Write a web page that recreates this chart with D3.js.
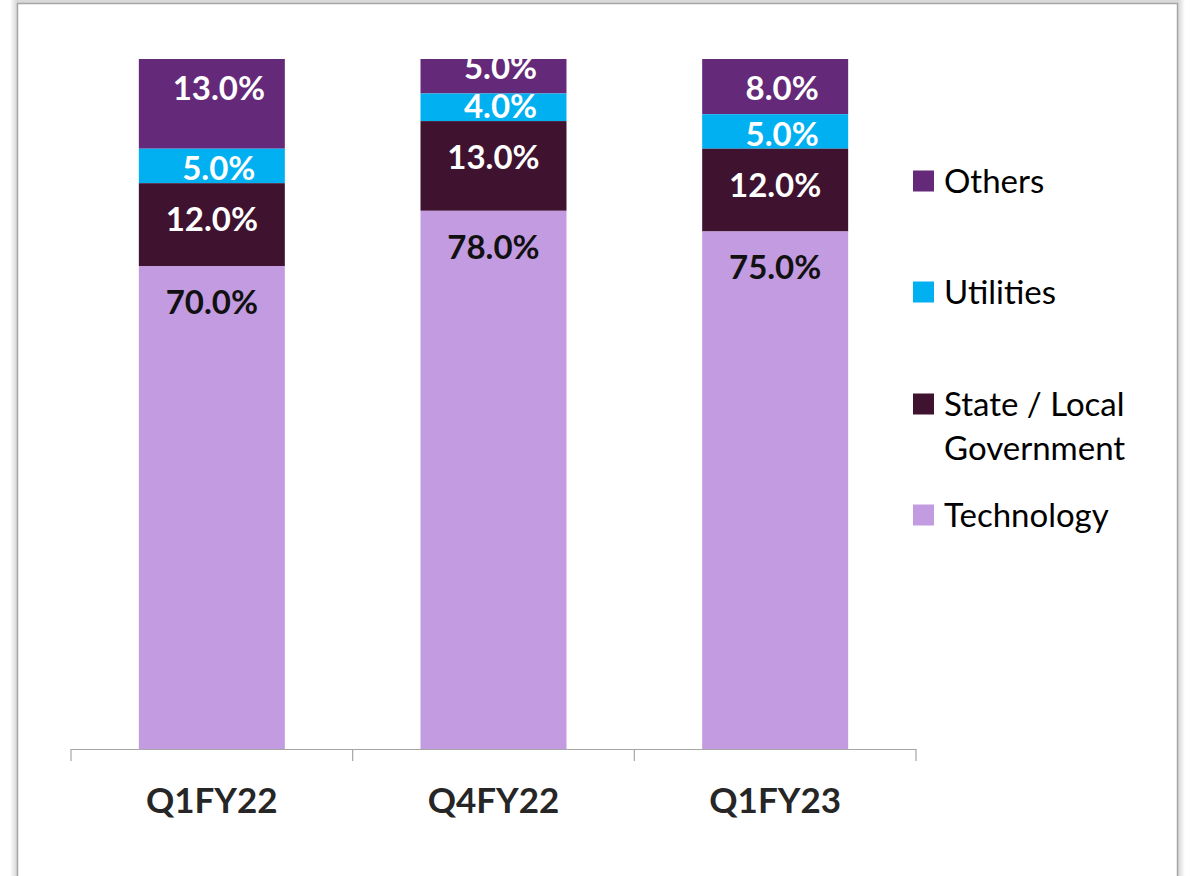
<!DOCTYPE html>
<html>
<head>
<meta charset="utf-8">
<script src="https://cdn.jsdelivr.net/npm/d3@7"></script>
<style>
  html, body { margin: 0; padding: 0; background: #fff; }
  svg { display: block; }
  text { font-family: Lato, "Open Sans", sans-serif; }
</style>
</head>
<body>
<svg id="chart" width="1190" height="876"></svg>
<script>
// ---- data ----
const categories = ["Q1FY22", "Q4FY22", "Q1FY23"];
const seriesNames = ["Technology", "State / Local Government", "Utilities", "Others"];
const technology = [70, 78, 75];
const stateLocal = [12, 13, 12];
const utilities = [5, 4, 5];
const others = [13, 5, 8];
const legendLabels = [["Others"], ["Utilities"], ["State / Local", "Government"], ["Technology"]];

const colors = {
  "Technology": "#C39BE1",
  "State / Local Government": "#3F1230",
  "Utilities": "#00B0F0",
  "Others": "#642A79"
};
const labelColors = {
  "Technology": "#111111",
  "State / Local Government": "#ffffff",
  "Utilities": "#ffffff",
  "Others": "#ffffff"
};

const valuesBySeries = {
  "Technology": technology,
  "State / Local Government": stateLocal,
  "Utilities": utilities,
  "Others": others
};

const rows = categories.map((c, i) => {
  const r = { category: c };
  seriesNames.forEach(s => r[s] = valuesBySeries[s][i]);
  return r;
});

const stacked = d3.stack().keys(seriesNames)(rows);

const svg = d3.select("#chart");

// ---- frame ----
const defs = svg.append("defs");
const gl = defs.append("linearGradient").attr("id", "shadowL").attr("x1", "0").attr("x2", "1");
gl.append("stop").attr("offset", "0").attr("stop-color", "#ffffff");
gl.append("stop").attr("offset", "1").attr("stop-color", "#d6d6d6");
const gr = defs.append("linearGradient").attr("id", "shadowR").attr("x1", "0").attr("x2", "1");
gr.append("stop").attr("offset", "0").attr("stop-color", "#d6d6d6");
gr.append("stop").attr("offset", "1").attr("stop-color", "#ffffff");
svg.append("rect").attr("x", 10).attr("y", 0).attr("width", 7).attr("height", 876).attr("fill", "url(#shadowL)");
svg.append("rect").attr("x", 1178).attr("y", 0).attr("width", 7).attr("height", 876).attr("fill", "url(#shadowR)");
svg.append("rect").attr("x", 17).attr("y", 0).attr("width", 1161).attr("height", 3.5).attr("fill", "#d9d9d9");
svg.append("rect").attr("x", 17.5).attr("y", 3.5).attr("width", 1160).attr("height", 900)
  .attr("fill", "#ffffff").attr("stroke", "#a6a6a6").attr("stroke-width", 1.5);

// ---- scales ----
const x = d3.scaleBand().domain(categories).range([71, 916]).paddingInner(0.4817).paddingOuter(0.24085);
const y = d3.scaleLinear().domain([0, 100]).range([749, 59]);

defs.append("clipPath").attr("id", "plotClip")
  .append("rect").attr("x", 60).attr("y", y(100)).attr("width", 870).attr("height", y(0) - y(100));

const plot = svg.append("g").attr("clip-path", "url(#plotClip)");

// label placement rules (per series)
function labelY(name, d) {
  const top = y(d[1]), bottom = y(d[0]);
  if (name === "Technology" || name === "State / Local Government") return top + 36;
  if (name === "Utilities") return bottom - 15;
  return Math.min(top + 29, bottom - 26);
}
const labelDx = { "Technology": 0, "State / Local Government": 0, "Utilities": 7, "Others": 7 };

// draw from top series down so lower segments overlay labels above them
const order = ["Others", "Utilities", "State / Local Government", "Technology"];
order.forEach(name => {
  const layer = stacked.find(l => l.key === name);
  const g = plot.append("g");
  g.selectAll("rect").data(layer).join("rect")
    .attr("x", d => x(d.data.category))
    .attr("width", x.bandwidth())
    .attr("y", d => y(d[1]))
    .attr("height", d => y(d[0]) - y(d[1]))
    .attr("fill", colors[name]);
  g.selectAll("text").data(layer).join("text")
    .attr("x", d => x(d.data.category) + x.bandwidth() / 2 + labelDx[name])
    .attr("y", d => labelY(name, d))
    .attr("dy", "0.36em")
    .attr("text-anchor", "middle")
    .attr("font-size", 33)
    .attr("font-weight", "bold")
    .attr("fill", labelColors[name])
    .text(d => (d[1] - d[0]).toFixed(1) + "%");
});

// ---- x axis ----
const axis = svg.append("g");
const axisColor = "#a6a6a6";
axis.append("line").attr("x1", x.range()[0]).attr("x2", x.range()[1])
  .attr("y1", y(0) + 0.5).attr("y2", y(0) + 0.5).attr("stroke", axisColor).attr("stroke-width", 1.2);
const bounds = categories.map(c => x(c) - x.step() * x.paddingInner() / 2).concat([x.range()[1]]);
axis.selectAll("line.tick").data(bounds).join("line").attr("class", "tick")
  .attr("x1", d => d).attr("x2", d => d)
  .attr("y1", y(0)).attr("y2", y(0) + 12)
  .attr("stroke", axisColor).attr("stroke-width", 1.2);
axis.selectAll("text").data(categories).join("text")
  .attr("x", d => x(d) + x.bandwidth() / 2)
  .attr("y", 800).attr("dy", "0.36em")
  .attr("text-anchor", "middle")
  .attr("font-size", 35).attr("font-weight", "bold").attr("fill", "#262626")
  .text(d => d);

// ---- legend ----
const legendY = [181, 292, 404, 515];
const legend = svg.append("g");
order.forEach((name, i) => {
  const cy = legendY[i];
  legend.append("rect").attr("x", 913).attr("y", cy - 10.5).attr("width", 21).attr("height", 21)
    .attr("fill", colors[name]);
  const t = legend.append("text").attr("x", 944).attr("y", cy)
    .attr("font-size", 33).attr("fill", "#000");
  legendLabels[i].forEach((line, j) => {
    t.append("tspan").attr("x", 944).attr("dy", j === 0 ? "0.36em" : 44).text(line);
  });
});
</script>
</body>
</html>
